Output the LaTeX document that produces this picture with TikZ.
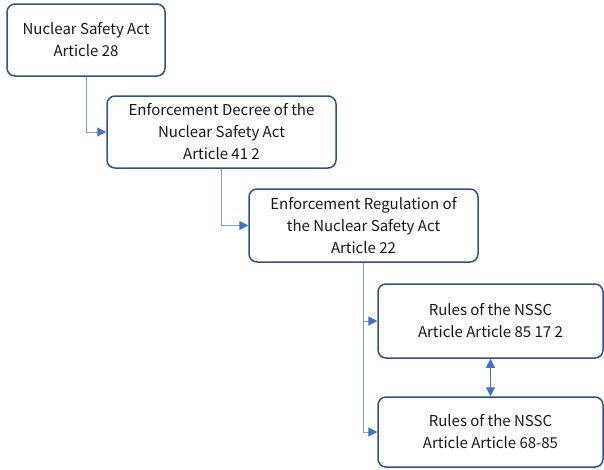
\documentclass[tikz,border=0pt]{standalone}
\usepackage{fontspec}
\setmainfont{Noto Sans CJK KR}
\usetikzlibrary{arrows.meta}
\definecolor{boxborder}{HTML}{2F528F}
\definecolor{connline}{HTML}{7F9FD8}
\definecolor{arrowblue}{HTML}{4472C4}
\tikzset{
  stepbox/.style={draw=boxborder, line width=1.5pt, rounded corners=8pt, fill=white,
    align=center, inner sep=0pt, font=\fontsize{15}{22}\selectfont, text=black!90},
  conn/.style={draw=connline, line width=1pt, -{Triangle[length=9pt,width=9pt,color=arrowblue]}},
  dconn/.style={draw=arrowblue, line width=1pt, {Triangle[length=9pt,width=9pt]}-{Triangle[length=9pt,width=9pt]}}
}
\begin{document}
\begin{tikzpicture}[x=1pt,y=-1pt]
\useasboundingbox (0,0) rectangle (604,469);
\node[stepbox, minimum width=158pt, minimum height=72pt] (A) at (86,40) {Nuclear Safety Act\\Article 28};
\node[stepbox, minimum width=229pt, minimum height=72pt] (B) at (221.5,132) {Enforcement Decree of the\\Nuclear Safety Act\\Article 41 2};
\node[stepbox, minimum width=229pt, minimum height=73pt] (C) at (363.5,225.5) {Enforcement Regulation of\\the Nuclear Safety Act\\Article 22};
\node[stepbox, minimum width=225pt, minimum height=74pt] (D) at (490.5,321) {Rules of the NSSC\\Article Article 85 17 2};
\node[stepbox, minimum width=225pt, minimum height=70pt] (E) at (490.5,432) {Rules of the NSSC\\Article Article 68-85};
\draw[conn] (A.south) |- (B.west);
\draw[conn] (B.south) |- (C.west);
\draw[conn] (C.south) |- (D.west);
\draw[conn] (C.south) |- (E.west);
\draw[dconn] (D.south) -- (E.north);
\end{tikzpicture}
\end{document}
